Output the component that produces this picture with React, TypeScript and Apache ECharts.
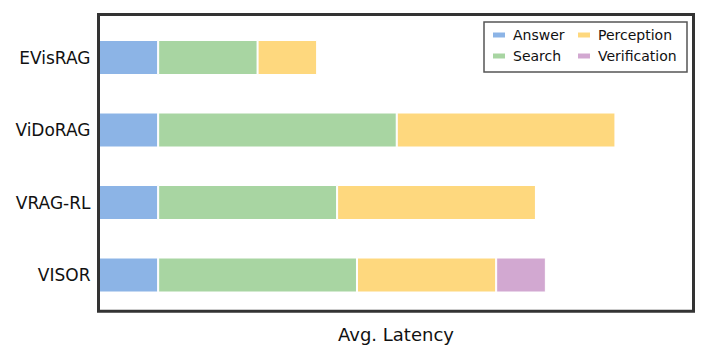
import React, { useEffect, useRef } from "react";
import * as echarts from "echarts";

const categories = ["EVisRAG", "ViDoRAG", "VRAG-RL", "VISOR"];
const answer = [6, 6, 6, 6];
const search = [10, 24, 18, 20];
const perception = [6, 22, 20, 14];
const verification = [0, 0, 0, 5];
const seriesNames = ["Answer", "Search", "Perception", "Verification"];
const colors = ["#8cb4e6", "#a8d5a2", "#fed87e", "#d2a8d1"];

const FONT = "DejaVu Sans";

export default function App() {
  const ref = useRef<HTMLDivElement>(null);
  useEffect(() => {
    if (!ref.current) return;
    const chart = echarts.init(ref.current, undefined, { renderer: "svg" });
    const values = [answer, search, perception, verification];
    const legendBase = {
      orient: "vertical",
      top: 28,
      padding: 0,
      itemWidth: 14,
      itemHeight: 7,
      itemGap: 7,
      icon: "rect",
      textStyle: { fontFamily: FONT, fontSize: 14, color: "#111", lineHeight: 14, padding: [0, 0, 0, 2] },
    };
    chart.setOption({
      animation: false,
      backgroundColor: "#ffffff",
      textStyle: { fontFamily: FONT },
      grid: { left: 98.5, right: 708 - 693.5, top: 21.25, bottom: 363 - 311.25, containLabel: false },
      xAxis: {
        type: "value",
        min: 0,
        max: 59.85,
        axisLine: { show: false },
        axisTick: { show: false },
        axisLabel: { show: false },
        splitLine: { show: false },
        name: "Avg. Latency",
        nameLocation: "middle",
        nameGap: 14,
        nameTextStyle: { fontFamily: FONT, fontSize: 18, color: "#111", verticalAlign: "top" },
      },
      yAxis: {
        type: "category",
        data: categories,
        inverse: true,
        axisLine: { show: false },
        axisTick: { show: false },
        axisLabel: { fontFamily: FONT, fontSize: 17, color: "#111", margin: 8 },
        splitLine: { show: false },
      },
      legend: [
        { ...legendBase, data: ["Answer", "Search"], left: 491 },
        { ...legendBase, data: ["Perception", "Verification"], left: 576 },
      ],
      graphic: [
        {
          type: "rect",
          shape: { x: 98.5, y: 14.5, width: 595, height: 296.8 },
          style: { fill: "none", stroke: "#333", lineWidth: 3 },
          z: 100,
        },
        {
          type: "rect",
          shape: { x: 484, y: 22, width: 203, height: 50 },
          style: { fill: "#fff", stroke: "#555", lineWidth: 1.5 },
          z: 0,
        },
      ],
      series: seriesNames.map((name, i) => ({
        name,
        type: "bar",
        stack: "total",
        data: values[i],
        barWidth: 35,
        itemStyle: { color: colors[i], borderColor: "#ffffff", borderWidth: 1 },
        emphasis: { disabled: true },
        z: 2,
      })),
    });
    return () => chart.dispose();
  }, []);
  return (
    <div
      ref={ref}
      style={{ position: "absolute", left: 0, top: 0, width: 708, height: 363 }}
    />
  );
}
